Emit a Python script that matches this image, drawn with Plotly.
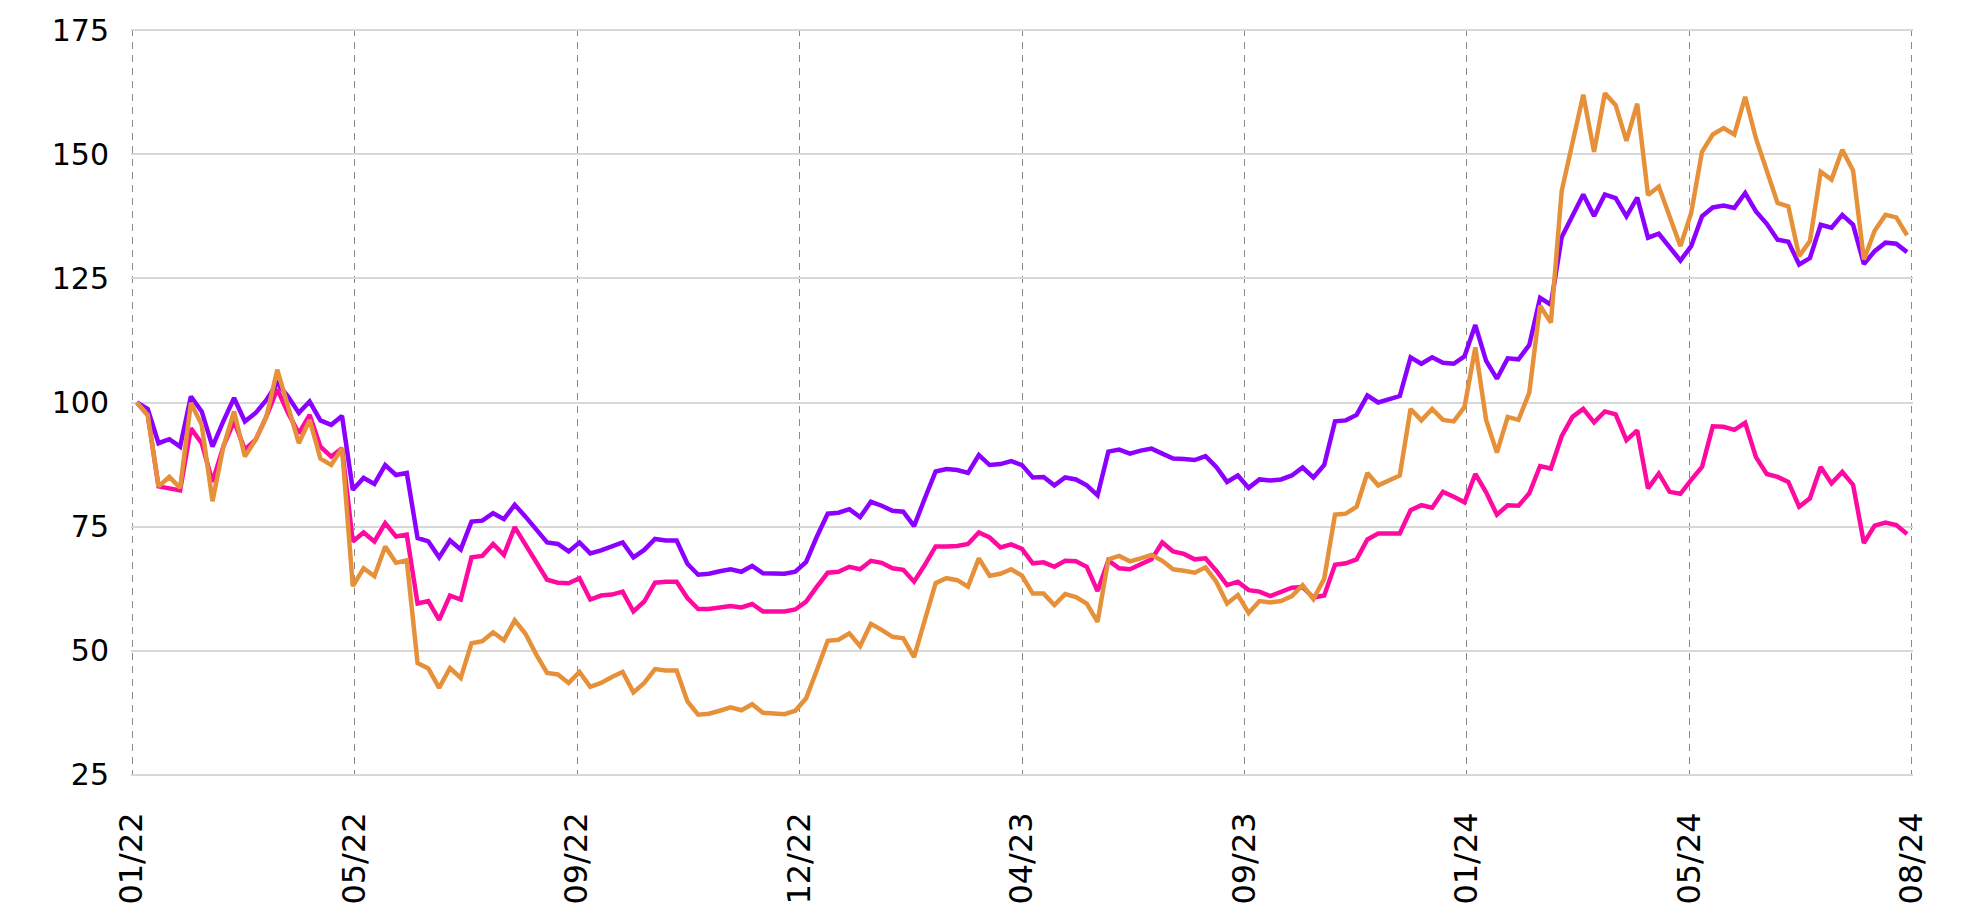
import plotly.graph_objects as go

# three index series, weekly-ish points (start = 100)
purple = [
    100, 98.7, 91.8, 92.6, 91.1, 101.2, 98.2, 91.1, 96.2, 100.9,
    96.2, 97.9, 100.5, 103.9, 101.2, 97.9, 100.2, 96.4, 95.5, 97.3,
    82.4, 84.8, 83.6, 87.4, 85.4, 85.8, 72.7, 72.0, 68.8, 72.2,
    70.4, 76.0, 76.2, 77.7, 76.5, 79.4, 77.0, 74.3, 71.8, 71.5,
    70.0, 71.8, 69.6, 70.2, 71.1, 71.8, 68.8, 70.3, 72.5, 72.2,
    72.2, 67.5, 65.3, 65.5, 66.0, 66.4, 65.9, 67.1, 65.6, 65.5,
    65.5, 65.9, 67.9, 73.0, 77.6, 77.8, 78.5, 76.9, 80.0, 79.2,
    78.2, 78.0, 75.1, 80.7, 86.1, 86.6, 86.4, 85.8, 89.4, 87.4,
    87.6, 88.2, 87.4, 84.9, 85.0, 83.3, 84.9, 84.5, 83.3, 81.3,
    90.1, 90.5, 89.7, 90.3, 90.7, 89.7, 88.7, 88.6, 88.4, 89.2,
    87.0, 84.0, 85.3, 82.8, 84.5, 84.3, 84.5, 85.3, 86.9, 84.9,
    87.4, 96.2, 96.4, 97.5, 101.4, 100.0, 100.7, 101.3, 109.1, 107.8,
    109.1, 108.0, 107.8, 109.3, 115.6, 108.4, 104.8, 108.9, 108.7, 111.6,
    121.1, 119.7, 133.3, 137.6, 141.9, 137.6, 141.9, 141.2, 137.5, 141.3,
    133.2, 134.0, 131.3, 128.6, 131.5, 137.5, 139.3, 139.7, 139.2, 142.2,
    138.5, 136.0, 132.8, 132.4, 127.8, 129.1, 135.8, 135.2, 137.8, 135.8,
    127.9, 130.5, 132.2, 132.0, 130.3,
]

pink = [
    100, 97.5, 83.1, 82.8, 82.3, 94.8, 91.8, 84.0, 91.1, 96.2,
    90.5, 92.5, 97.2, 102.7, 97.9, 93.8, 97.5, 91.1, 89.1, 90.8,
    72.0, 73.8, 72.0, 75.7, 73.0, 73.4, 59.5, 60.0, 56.2, 61.1,
    60.3, 68.8, 69.1, 71.5, 69.3, 74.9, 71.3, 67.6, 64.3, 63.7,
    63.6, 64.6, 60.3, 61.1, 61.3, 61.9, 57.9, 59.9, 63.7, 63.9,
    63.9, 60.6, 58.4, 58.4, 58.8, 59.0, 58.7, 59.4, 57.9, 57.9,
    57.9, 58.3, 59.9, 62.9, 65.7, 65.9, 66.9, 66.4, 68.1, 67.7,
    66.6, 66.3, 63.9, 67.3, 71.0, 71.0, 71.1, 71.5, 73.8, 72.8,
    70.8, 71.4, 70.5, 67.6, 67.8, 66.9, 68.1, 68.0, 66.9, 62.0,
    68.2, 66.6, 66.4, 67.4, 68.4, 71.8, 70.0, 69.5, 68.4, 68.6,
    66.1, 63.2, 63.9, 62.2, 61.9, 61.0, 61.9, 62.7, 62.8, 60.7,
    61.1, 67.3, 67.6, 68.4, 72.4, 73.6, 73.6, 73.6, 78.3, 79.3,
    78.8, 82.0, 81.0, 79.9, 85.6, 81.9, 77.4, 79.3, 79.2, 81.7,
    87.2, 86.7, 93.2, 97.1, 98.7, 96.0, 98.2, 97.6, 92.4, 94.4,
    82.7, 85.7, 82.0, 81.6, 84.4, 87.0, 95.2, 95.1, 94.5, 95.9,
    89.0, 85.6, 85.0, 84.0, 79.0, 80.7, 87.0, 83.7, 86.0, 83.4,
    71.7, 75.2, 75.8, 75.3, 73.5,
]

orange = [
    100, 97.5, 83.1, 85.0, 82.8, 99.9, 95.5, 80.1, 91.0, 98.2,
    89.1, 92.5, 97.2, 106.6, 99.2, 91.8, 96.5, 88.7, 87.4, 90.8,
    63.0, 66.6, 65.0, 71.0, 67.7, 68.2, 47.5, 46.4, 42.5, 46.5,
    44.5, 51.5, 51.9, 53.7, 52.1, 56.1, 53.4, 49.2, 45.5, 45.2,
    43.5, 45.7, 42.7, 43.5, 44.7, 45.7, 41.6, 43.5, 46.3, 46.0,
    46.0, 39.8, 37.1, 37.3, 37.9, 38.6, 38.0, 39.2, 37.5, 37.4,
    37.2, 37.9, 40.4, 46.1, 52.0, 52.2, 53.5, 50.9, 55.4, 54.2,
    52.8, 52.5, 48.7, 56.2, 63.6, 64.6, 64.2, 62.9, 68.6, 65.1,
    65.5, 66.4, 65.1, 61.5, 61.5, 59.2, 61.4, 60.8, 59.5, 55.8,
    68.4, 69.1, 68.0, 68.6, 69.3, 68.1, 66.4, 66.1, 65.7, 66.8,
    63.9, 59.5, 61.2, 57.6, 60.0, 59.7, 60.0, 61.0, 63.2, 60.4,
    64.5, 77.4, 77.6, 79.0, 85.8, 83.3, 84.3, 85.3, 98.7, 96.4,
    98.7, 96.5, 96.2, 99.1, 111.1, 96.5, 89.9, 97.1, 96.5, 102.0,
    119.5, 116.1, 142.6, 152.3, 162.0, 150.5, 162.3, 159.9, 152.7, 160.2,
    141.8, 143.5, 137.8, 131.5, 138.2, 150.5, 154.0, 155.3, 154.0, 161.6,
    153.2, 146.9, 140.2, 139.5, 129.5, 132.5, 146.5, 144.9, 150.9, 146.7,
    128.8, 134.6, 137.8, 137.3, 133.7,
]

tick_labels = ['01/22', '05/22', '09/22', '12/22', '04/23',
               '09/23', '01/24', '05/24', '08/24']
y_ticks = [25, 50, 75, 100, 125, 150, 175]

n = len(purple)
assert n == len(pink) == len(orange)
x = list(range(n))

# ticks sit evenly across the axis, not on calendar dates
x_lo, x_hi = -0.45, n - 1 + 0.45
step = (x_hi - x_lo) / (len(tick_labels) - 1)
tick_pos = [x_lo + k * step for k in range(len(tick_labels))]

font = 'DejaVu Sans'

fig = go.Figure()
for name, vals, color in [('pink', pink, '#FF0AA0'),
                          ('purple', purple, '#8C00FF'),
                          ('orange', orange, '#E6913A')]:
    _ = fig.add_trace(
            go.Scatter(
                x=x,
                y=vals,
                mode='lines',
                name=name,
                line={'color': color, 'width': 4.5},
                )
            )

# ranges padded a hair so plotly still draws the edge gridlines
_ = fig.update_xaxes(
        range=[x_lo - 0.1, x_hi + 0.1],
        tickmode='array',
        tickvals=tick_pos,
        ticktext=tick_labels,
        tickangle=-90,
        tickfont={'family': font, 'size': 32, 'color': '#000000'},
        ticklabelstandoff=29,
        automargin=False,
        showgrid=True,
        gridcolor='#8a8a8a',
        gridwidth=1.3,
        griddash='7px,6px',
        showline=False,
        zeroline=False,
        ticks='',
        )
_ = fig.update_yaxes(
        range=[24.75, 175.25],
        tickmode='array',
        tickvals=y_ticks,
        tickfont={'family': font, 'size': 30, 'color': '#000000'},
        ticklabelstandoff=21,
        automargin=False,
        showgrid=True,
        gridcolor='#d8d8d8',
        gridwidth=2,
        showline=False,
        zeroline=False,
        ticks='',
        )
# page body keeps its default 8px margin, so the figure is 16px smaller
_ = fig.update_layout(
        width=1961,
        height=902,
        autosize=False,
        margin={'l': 123, 'r': 56, 't': 21, 'b': 134},
        paper_bgcolor='#ffffff',
        plot_bgcolor='#ffffff',
        showlegend=False,
        )

fig.write_html("out.html")
